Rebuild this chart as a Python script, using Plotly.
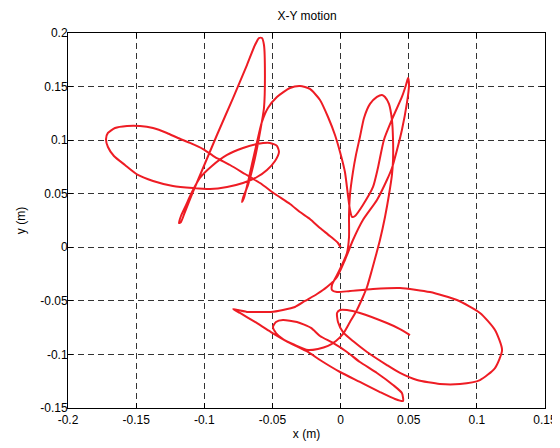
import plotly.graph_objects as go

# Trajectory (x in m, y in m)
x_vals = [
    0.000, -0.0019, -0.0078, -0.0151, -0.0225, -0.0298, -0.0371, -0.0481, -0.0591, -0.0701,
    -0.0811, -0.0921, -0.1009, -0.1105, -0.1193, -0.1274, -0.1376, -0.1472, -0.1567, -0.1655,
    -0.1707, -0.1721, -0.1707, -0.1663, -0.1582, -0.1487, -0.1376, -0.1230, -0.1083, -0.0958,
    -0.0833, -0.0716, -0.0613, -0.0540, -0.0481, -0.0452, -0.0467, -0.0518, -0.0613, -0.0716,
    -0.0833, -0.0944, -0.1032, -0.1090, -0.1134, -0.1171, -0.1186, -0.1171, -0.1142, -0.1083,
    -0.1009, -0.0907, -0.0789, -0.0687, -0.0628, -0.0599, -0.0577, -0.0562, -0.0555, -0.0562,
    -0.0591, -0.0628, -0.0679, -0.0716, -0.0723, -0.0709, -0.0679, -0.0650, -0.0613, -0.0577,
    -0.0533, -0.0467, -0.0371, -0.0298, -0.0225, -0.0151, -0.0092, -0.0041, -0.0004, 0.0032,
    0.0054, 0.0069, 0.0084, 0.0106, 0.0164, 0.0238, 0.0274, 0.0318, 0.0385, 0.0450,
    0.0480, 0.0495, 0.0502, 0.0487, 0.0450, 0.0414, 0.0377, 0.0340, 0.0267, 0.0164,
    0.0091, 0.0032, -0.0026, -0.0100, -0.0173, -0.0261, -0.0335, -0.0423, -0.0511, -0.0606,
    -0.0679, -0.0753, -0.0789, -0.0738, -0.0628, -0.0511, -0.0386, -0.0239, -0.0151, -0.0004,
    0.0142, 0.0289, 0.0399, 0.0458, 0.0450, 0.0385, 0.0267, 0.0142, 0.0047, -0.0056,
    -0.0151, -0.0217, -0.0320, -0.0423, -0.0474, -0.0496, -0.0474, -0.0423, -0.0335, -0.0239,
    -0.0166, -0.0092, -0.0034, 0.0018, 0.0069, 0.0120, 0.0164, 0.0194, 0.0230, 0.0260,
    0.0289, 0.0326, 0.0355, 0.0377, 0.0385, 0.0385, 0.0377, 0.0355, 0.0326, 0.0304,
    0.0267, 0.0216, 0.0172, 0.0142, 0.0113, 0.0091, 0.0069, 0.0062, 0.0062, 0.0047,
    0.0010, -0.0026, -0.0063, -0.0063, -0.0026, 0.0069, 0.0238, 0.0436, 0.0656, 0.0854,
    0.1023, 0.1133, 0.1185, 0.1133, 0.1023, 0.0876, 0.0729, 0.0561, 0.0436, 0.0340,
    0.0194, 0.0091, 0.0018, -0.0019, -0.0026, -0.0004, 0.0047, 0.0142, 0.0340, 0.0436,
    0.0509,
]
y_vals = [
    0.000, 0.0040, 0.0105, 0.0180, 0.0264, 0.0329, 0.0404, 0.0497, 0.0600, 0.0684,
    0.0768, 0.0842, 0.0917, 0.0974, 0.1020, 0.1067, 0.1113, 0.1132, 0.1132, 0.1113,
    0.1067, 0.1011, 0.0936, 0.0852, 0.0768, 0.0675, 0.0619, 0.0572, 0.0553, 0.0544,
    0.0563, 0.0600, 0.0656, 0.0722, 0.0806, 0.0890, 0.0946, 0.0974, 0.0964, 0.0927,
    0.0862, 0.0759, 0.0647, 0.0516, 0.0394, 0.0292, 0.0226, 0.0236, 0.0329, 0.0516,
    0.0740, 0.1048, 0.1393, 0.1701, 0.1888, 0.1953, 0.1953, 0.1888, 0.1608, 0.1300,
    0.1076, 0.0834, 0.0582, 0.0460, 0.0423, 0.0460, 0.0610, 0.0778, 0.0983, 0.1170,
    0.1300, 0.1403, 0.1487, 0.1506, 0.1478, 0.1375, 0.1216, 0.1048, 0.0889, 0.0703,
    0.0488, 0.0348, 0.0283, 0.0292, 0.0395, 0.0563, 0.0740, 0.1002, 0.1216, 0.1403,
    0.1515, 0.1581, 0.1515, 0.1347, 0.1095, 0.0909, 0.0740, 0.0628, 0.0442, 0.0255,
    0.0068, -0.0119, -0.0277, -0.0371, -0.0436, -0.0501, -0.0557, -0.0585, -0.0604, -0.0604,
    -0.0604, -0.0585, -0.0576, -0.0613, -0.0697, -0.0791, -0.0884, -0.0977, -0.1052, -0.1164,
    -0.1257, -0.1351, -0.1416, -0.1435, -0.1360, -0.1285, -0.1173, -0.1071, -0.0977, -0.0893,
    -0.0828, -0.0753, -0.0697, -0.0679, -0.0697, -0.0744, -0.0800, -0.0856, -0.0912, -0.0959,
    -0.0949, -0.0921, -0.0875, -0.0809, -0.0697, -0.0585, -0.0464, -0.0371, -0.0212, -0.0072,
    0.0068, 0.0283, 0.0488, 0.0675, 0.0815, 0.1002, 0.1188, 0.1338, 0.1403, 0.1422,
    0.1403, 0.1338, 0.1207, 0.1029, 0.0862, 0.0703, 0.0488, 0.0301, 0.0096, -0.0053,
    -0.0165, -0.0259, -0.0352, -0.0399, -0.0418, -0.0408, -0.0389, -0.0380, -0.0418, -0.0492,
    -0.0613, -0.0772, -0.0959, -0.1127, -0.1239, -0.1276, -0.1276, -0.1239, -0.1173, -0.1099,
    -0.0977, -0.0875, -0.0791, -0.0697, -0.0613, -0.0585, -0.0585, -0.0613, -0.0707, -0.0763,
    -0.0819,
]

x_ticks = [-0.2, -0.15, -0.1, -0.05, 0, 0.05, 0.1, 0.15]
x_tick_text = ["-0.2", "-0.15", "-0.1", "-0.05", "0", "0.05", "0.1", "0.15"]
y_ticks = [-0.15, -0.1, -0.05, 0, 0.05, 0.1, 0.15, 0.2]
y_tick_text = ["-0.15", "-0.1", "-0.05", "0", "0.05", "0.1", "0.15", "0.2"]

FONT = "Liberation Sans, Arial, sans-serif"

fig = go.Figure()
fig.add_trace(go.Scatter(
    x=x_vals, y=y_vals, mode="lines",
    line=dict(color="#ee1c24", width=2, shape="spline", smoothing=0.6),
    showlegend=False, hoverinfo="skip",
))

axis_common = dict(
    showline=True, linecolor="black", linewidth=1, mirror="ticks",
    ticks="inside", ticklen=5, tickcolor="black",
    showgrid=True, gridcolor="#333333", griddash="6px,4px", gridwidth=1,
    zeroline=False, automargin=False,
    tickfont=dict(family=FONT, size=12, color="black"),
)

fig.update_layout(
    width=560, height=448,
    margin=dict(l=60, r=23, t=25, b=48),
    paper_bgcolor="white", plot_bgcolor="white",
    title=dict(text="X-Y motion", x=0.534, xanchor="center", y=0.982, yanchor="middle",
               font=dict(family=FONT, size=12, color="black")),
    xaxis=dict(range=[-0.2, 0.15], tickvals=x_ticks, ticktext=x_tick_text,
               ticklabelstandoff=1,
               title=dict(text="x (m)", standoff=3, font=dict(family=FONT, size=12, color="black")),
               **axis_common),
    yaxis=dict(range=[-0.15, 0.2], tickvals=y_ticks, ticktext=y_tick_text,
               ticklabelstandoff=-3,
               title=dict(text="y (m)", standoff=12, font=dict(family=FONT, size=12, color="black")),
               **axis_common),
)

fig.write_html("out.html")
